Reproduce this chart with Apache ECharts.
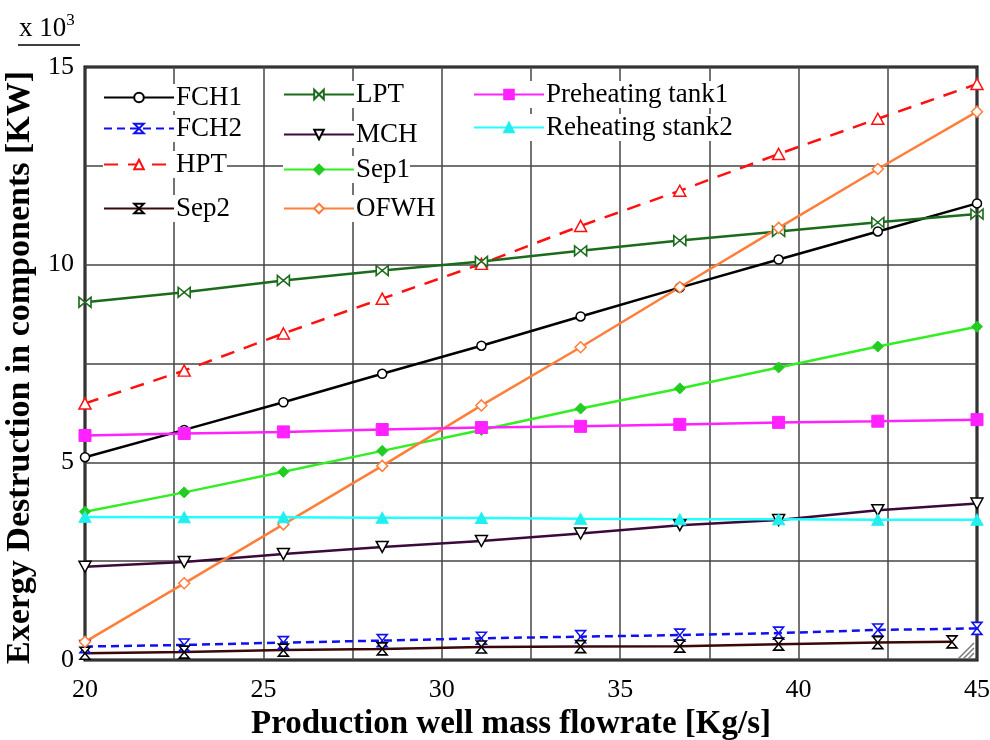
<!DOCTYPE html>
<html>
<head>
<meta charset="utf-8">
<title>Exergy destruction in components</title>
<script src="https://cdn.jsdelivr.net/npm/echarts@6/dist/echarts.min.js"></script>
<style>
  html, body { margin: 0; padding: 0; background: #fff; }
  #chart { width: 990px; height: 740px; }
</style>
</head>
<body>
<div id="chart"></div>
<script>
  // production well mass flowrate [kg/s], exergy destruction in 10^3 kW
  var flow = [20, 22.78, 25.56, 28.33, 31.11, 33.89, 36.67, 39.44, 42.22, 45];
  var sep2Flow = [20, 22.78, 25.56, 28.33, 31.11, 33.89, 36.67, 39.44, 42.22, 44.3];

  var fch1 = [5.13, 5.82, 6.52, 7.24, 7.95, 8.69, 9.42, 10.13, 10.84, 11.55];
  var fch2 = [0.34, 0.38, 0.44, 0.49, 0.55, 0.59, 0.63, 0.68, 0.76, 0.80];
  var hpt = [6.49, 7.32, 8.26, 9.14, 10.02, 10.98, 11.87, 12.80, 13.69, 14.57];
  var sep2 = [0.17, 0.20, 0.25, 0.28, 0.33, 0.34, 0.35, 0.40, 0.44, 0.46];
  var lpt = [9.05, 9.30, 9.60, 9.85, 10.08, 10.35, 10.61, 10.84, 11.07, 11.28];
  var mch = [2.36, 2.48, 2.68, 2.86, 3.01, 3.20, 3.41, 3.54, 3.79, 3.96];
  var sep1 = [3.75, 4.24, 4.76, 5.29, 5.82, 6.36, 6.87, 7.40, 7.93, 8.43];
  var ofwh = [0.46, 1.94, 3.43, 4.91, 6.44, 7.91, 9.43, 10.93, 12.42, 13.87];
  var preTank1 = [5.68, 5.73, 5.77, 5.83, 5.88, 5.91, 5.96, 6.01, 6.04, 6.08];
  var rehTank2 = [3.62, 3.61, 3.61, 3.60, 3.59, 3.57, 3.56, 3.56, 3.55, 3.55];

  var yTicks = [0, 5, 10, 15];
  var xTicks = [20, 25, 30, 35, 40, 45];

  var serif = 'Liberation Serif, Times New Roman, serif';
  var bowtie = 'path://M0,0L0,10L10,0L10,10Z';
  var hourglass = 'path://M0,0L10,0L0,10L10,10Z';

  function pairs(xs, ys) {
    return ys.map(function (v, i) { return [xs[i], v]; });
  }

  function line(name, xs, ys, color, opts) {
    return Object.assign({
      name: name,
      type: 'line',
      data: pairs(xs, ys),
      showAllSymbol: true,
      animation: false,
      lineStyle: { color: color, width: 2.5, type: 'solid' },
      itemStyle: { color: color, borderColor: color, borderWidth: 1.5 },
      symbolSize: 10,
      z: 3,
    }, opts);
  }

  var series = [
    line('FCH1', flow, fch1, '#000', {
      symbol: 'circle', symbolSize: 9,
      itemStyle: { color: '#fff', borderColor: '#000', borderWidth: 1.5 },
    }),
    line('FCH2', flow, fch2, '#1010ee', {
      symbol: hourglass, symbolSize: [10, 12],
      lineStyle: { color: '#1010ee', width: 2.5, type: [8, 5] },
      itemStyle: { color: '#fff', borderColor: '#1010ee', borderWidth: 1.5 },
    }),
    line('HPT', flow, hpt, '#ff1010', {
      symbol: 'triangle', symbolSize: [12, 11],
      lineStyle: { color: '#ff1010', width: 2.5, type: [14, 10] },
      itemStyle: { color: '#fff', borderColor: '#ff1010', borderWidth: 1.5 },
    }),
    line('Sep2', sep2Flow, sep2, '#3a0808', {
      symbol: hourglass, symbolSize: [10, 12],
      itemStyle: { color: '#fff', borderColor: '#000', borderWidth: 1.5 },
    }),
    line('LPT', flow, lpt, '#1c6b1c', {
      symbol: bowtie, symbolSize: [12, 10],
      itemStyle: { color: '#fff', borderColor: '#1c6b1c', borderWidth: 1.5 },
    }),
    line('MCH', flow, mch, '#3a0a3a', {
      symbol: 'triangle', symbolRotate: 180, symbolSize: [12, 11],
      itemStyle: { color: '#fff', borderColor: '#000', borderWidth: 1.5 },
    }),
    line('Sep1', flow, sep1, '#33ee22', {
      symbol: 'diamond', symbolSize: 11,
      itemStyle: { color: '#22cc22', borderColor: '#22cc22', borderWidth: 1 },
    }),
    line('OFWH', flow, ofwh, '#ff7f3a', {
      symbol: 'diamond', symbolSize: 11,
      itemStyle: { color: '#fff', borderColor: '#ff7f3a', borderWidth: 1.5 },
    }),
    line('Preheating tank1', flow, preTank1, '#ff22ff', {
      symbol: 'rect', symbolSize: 12,
      itemStyle: { color: '#ff22ff', borderColor: '#ff22ff', borderWidth: 1 },
    }),
    line('Reheating stank2', flow, rehTank2, '#22ffff', {
      symbol: 'triangle', symbolSize: [12, 11],
      itemStyle: { color: '#22eeee', borderColor: '#22eeee', borderWidth: 1 },
    }),
  ];

  // [name, icon left, row centre]
  var legendSlots = [
    ['FCH1', 103, 100], ['FCH2', 103, 131], ['HPT', 103, 167], ['Sep2', 103, 211],
    ['LPT', 283, 97], ['MCH', 283, 137], ['Sep1', 283, 172], ['OFWH', 283, 211],
    ['Preheating tank1', 473, 97], ['Reheating stank2', 473, 130],
  ];

  var legends = legendSlots.map(function (s) {
    return {
      data: [s[0]],
      left: s[1],
      top: s[2] - 16,
      padding: 0,
      itemWidth: 70,
      itemHeight: 12,
      backgroundColor: '#fff',
      selectedMode: false,
      textStyle: { fontFamily: serif, fontSize: 27, color: '#000', padding: [0, 0, 0, -3] },
    };
  });

  // resize grip drawn in the bottom-right corner of the frame
  var grip = [[958, 659, 974, 643], [963, 659, 974, 648], [968, 659, 974, 653]].map(function (g) {
    return {
      type: 'line', shape: { x1: g[0], y1: g[1], x2: g[2], y2: g[3] },
      style: { stroke: '#777', lineWidth: 1.5 },
    };
  });

  var chart = echarts.init(document.getElementById('chart'));
  chart.setOption({
    backgroundColor: '#fff',
    animation: false,
    grid: {
      left: 85, right: 13, top: 67, bottom: 80,
      outerBoundsMode: 'none',
      show: true, borderColor: '#000', borderWidth: 3,
    },
    legend: legends,
    xAxis: {
      type: 'value',
      min: 20, max: 45, interval: 2.5,
      name: 'Production well mass flowrate [Kg/s]',
      nameLocation: 'middle',
      nameGap: 42,
      nameTextStyle: { fontFamily: serif, fontSize: 33, fontWeight: 'bold', color: '#000', padding: [0, 40, 0, 0] },
      axisLine: { show: false },
      axisTick: { show: false },
      axisLabel: {
        margin: 17, fontFamily: serif, fontSize: 26, color: '#000',
        formatter: function (v) { return xTicks.indexOf(v) >= 0 ? String(v) : ''; },
      },
      splitLine: { show: true, lineStyle: { color: '#444', width: 1.5 } },
    },
    yAxis: {
      type: 'value',
      min: 0, max: 15, interval: 2.5,
      name: 'Exergy Destruction in components [KW]',
      nameLocation: 'middle',
      nameGap: 47,
      nameTextStyle: { fontFamily: serif, fontSize: 34, fontWeight: 'bold', color: '#000', padding: [0, 8, 0, 0] },
      axisLine: { show: false },
      axisTick: { show: false },
      axisLabel: {
        margin: 11, fontFamily: serif, fontSize: 26, color: '#000',
        formatter: function (v) { return yTicks.indexOf(v) >= 0 ? String(v) : ''; },
      },
      splitLine: { show: true, lineStyle: { color: '#444', width: 1.5 } },
    },
    graphic: [
      {
        type: 'text', left: 19, top: 12,
        style: {
          text: '{b|x 10}{s|3}',
          rich: {
            b: { fontFamily: serif, fontSize: 27, fill: '#000' },
            s: { fontFamily: serif, fontSize: 17, fill: '#000', padding: [0, 0, 16, 0] },
          },
        },
      },
      {
        type: 'line', shape: { x1: 18, y1: 45, x2: 80, y2: 45 },
        style: { stroke: '#000', lineWidth: 1.5 },
      },
    ].concat(grip),
    series: series,
  });
</script>
</body>
</html>
